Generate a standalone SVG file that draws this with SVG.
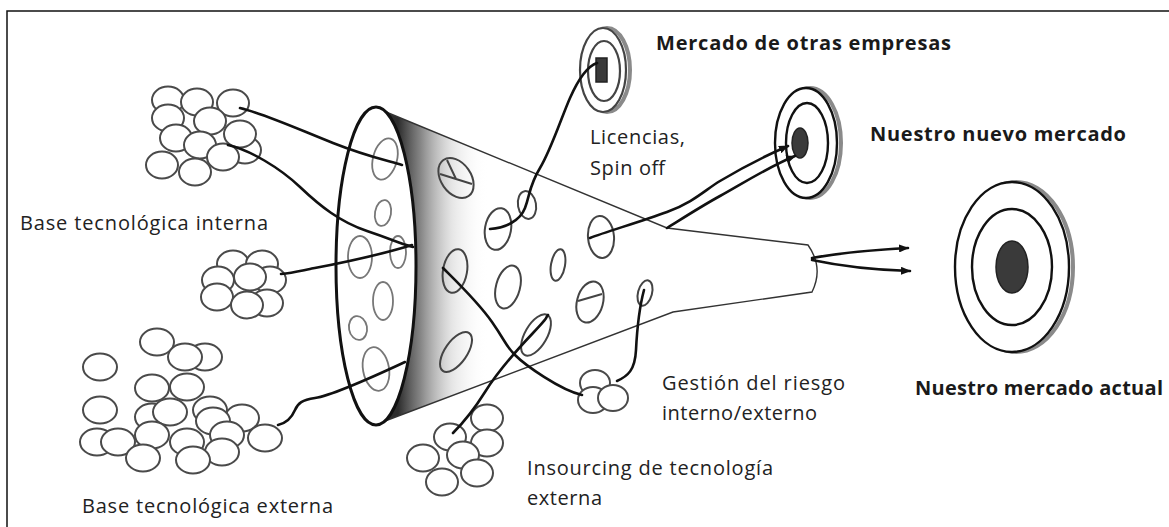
<svg xmlns="http://www.w3.org/2000/svg" width="1169" height="527" viewBox="0 0 1169 527">
  <defs>
    <linearGradient id="rimShade" gradientUnits="userSpaceOnUse" x1="398" y1="0" x2="488" y2="0">
      <stop offset="0" stop-color="#1a1a1a" stop-opacity="0.92"/>
      <stop offset="0.25" stop-color="#444" stop-opacity="0.65"/>
      <stop offset="0.6" stop-color="#999" stop-opacity="0.25"/>
      <stop offset="1" stop-color="#fff" stop-opacity="0"/>
    </linearGradient>
    <marker id="arrow" viewBox="0 0 10 8" refX="9" refY="4" markerWidth="10" markerHeight="8" markerUnits="userSpaceOnUse" orient="auto">
      <path d="M0,0 L10,4 L0,8 z" fill="#111"/>
    </marker>
    <style>
      .frame { fill: none; stroke: #111; stroke-width: 1.5; }
      .ball { fill: #fff; stroke: #4a4a4a; stroke-width: 2; }
      .hole { fill: none; stroke: #444; stroke-width: 2; }
      .hole-in { fill: none; stroke: #777; stroke-width: 1.8; }
      .rim { fill: none; stroke: #111; stroke-width: 3; }
      .edge { fill: none; stroke: #333; stroke-width: 1.4; }
      .string { fill: none; stroke: #111; stroke-width: 2.6; stroke-linecap: round; stroke-linejoin: round; }
      .ring { fill: #fff; stroke: #111; stroke-width: 2.4; }
      .ring-soft { fill: #fff; stroke: #444; stroke-width: 2.2; }
      .shadow { fill: #fff; stroke: #8a8a8a; stroke-width: 4; }
      .bull { fill: #3a3a3a; stroke: #222; stroke-width: 1.5; }
      .label { font-family: "Open Sans", "Liberation Sans", sans-serif; font-size: 20px; fill: #222; }
      .title { font-family: "Open Sans", "Liberation Sans", sans-serif; font-size: 20px; font-weight: bold; fill: #1a1a1a; }
    </style>
  </defs>

  <rect width="1169" height="527" fill="#fff"/>
  <path id="frame" class="frame" d="M7,527 V11 H1169"/>

  <!-- funnel: body, shading near the opening, holes, outline -->
  <g id="funnel">
    <path d="M386,112 L667,228 L808,245 Q824,268 812,292 L673,312 L385,421 A40 159 0 0 0 386,112 Z" fill="#fff"/>
    <path d="M386,112 L667,228 L808,245 Q824,268 812,292 L673,312 L385,421 A40 159 0 0 0 386,112 Z" fill="url(#rimShade)"/>
    <ellipse cx="376" cy="266" rx="40" ry="159" fill="#fff"/>

    <!-- holes seen through the opening -->
    <ellipse class="hole-in" cx="385" cy="159" rx="12" ry="21" transform="rotate(15 385 159)"/>
    <ellipse class="hole-in" cx="383" cy="213" rx="8" ry="13" transform="rotate(10 383 213)"/>
    <ellipse class="hole-in" cx="360" cy="257" rx="12" ry="21"/>
    <ellipse class="hole-in" cx="398" cy="252" rx="8" ry="16"/>
    <ellipse class="hole-in" cx="383" cy="301" rx="10" ry="19"/>
    <ellipse class="hole-in" cx="358" cy="328" rx="9" ry="12" transform="rotate(-10 358 328)"/>
    <ellipse class="hole-in" cx="376" cy="369" rx="13" ry="22" transform="rotate(-10 376 369)"/>

    <!-- holes on the outer surface -->
    <ellipse class="hole" cx="456" cy="178" rx="15" ry="22" transform="rotate(-35 456 178)"/>
    <path class="hole" d="M440,174 L472,184 M456,179 L447,160"/>
    <ellipse class="hole" cx="498" cy="229" rx="13" ry="21" transform="rotate(10 498 229)"/>
    <ellipse class="hole" cx="527" cy="205" rx="9" ry="14" transform="rotate(-10 527 205)"/>
    <ellipse class="hole" cx="601" cy="237" rx="13" ry="21" transform="rotate(-5 601 237)"/>
    <ellipse class="hole" cx="455" cy="271" rx="12" ry="22" transform="rotate(10 455 271)"/>
    <ellipse class="hole" cx="508" cy="287" rx="12" ry="22" transform="rotate(15 508 287)"/>
    <ellipse class="hole" cx="558" cy="265" rx="7" ry="16" transform="rotate(10 558 265)" stroke-width="2.6" stroke="#222"/>
    <ellipse class="hole" cx="590" cy="302" rx="13" ry="21" transform="rotate(15 590 302)"/>
    <path class="hole" d="M578,301 L602,294" stroke-width="2.4" stroke="#222"/>
    <ellipse class="hole" cx="645" cy="293" rx="7" ry="13" transform="rotate(15 645 293)"/>
    <ellipse class="hole" cx="456" cy="352" rx="11" ry="23" transform="rotate(35 456 352)" stroke-width="2.4" stroke="#222"/>
    <ellipse class="hole" cx="536" cy="335" rx="11" ry="23" transform="rotate(30 536 335)" stroke-width="2.4" stroke="#222"/>

    <path class="edge" d="M386,112 L667,228 L808,245 Q824,268 812,292 L673,312 L385,421"/>
    <ellipse class="rim" cx="376" cy="266" rx="40" ry="159"/>
  </g>

  <!-- technology clusters -->
  <g id="cluster-internal">
    <ellipse class="ball" cx="168" cy="100" rx="16" ry="13.5"/>
    <ellipse class="ball" cx="233" cy="103" rx="16" ry="13.5"/>
    <ellipse class="ball" cx="197" cy="102" rx="16" ry="13.5"/>
    <ellipse class="ball" cx="210" cy="121" rx="16" ry="13.5"/>
    <ellipse class="ball" cx="168" cy="118" rx="16" ry="13.5"/>
    <ellipse class="ball" cx="245" cy="150" rx="16" ry="13.5"/>
    <ellipse class="ball" cx="240" cy="134" rx="16" ry="13.5"/>
    <ellipse class="ball" cx="176" cy="138" rx="16" ry="13.5"/>
    <ellipse class="ball" cx="200" cy="145" rx="16" ry="13.5"/>
    <ellipse class="ball" cx="223" cy="157" rx="16" ry="13.5"/>
    <ellipse class="ball" cx="162" cy="165" rx="16" ry="13.5"/>
    <ellipse class="ball" cx="195" cy="172" rx="16" ry="13.5"/>
  </g>

  <g id="cluster-middle">
    <ellipse class="ball" cx="233" cy="264" rx="16" ry="13.5"/>
    <ellipse class="ball" cx="262" cy="264" rx="16" ry="13.5"/>
    <ellipse class="ball" cx="218" cy="280" rx="16" ry="13.5"/>
    <ellipse class="ball" cx="270" cy="280" rx="16" ry="13.5"/>
    <ellipse class="ball" cx="250" cy="277" rx="16" ry="13.5"/>
    <ellipse class="ball" cx="217" cy="297" rx="16" ry="13.5"/>
    <ellipse class="ball" cx="267" cy="303" rx="16" ry="13.5"/>
    <ellipse class="ball" cx="247" cy="305" rx="16" ry="13.5"/>
  </g>

  <g id="cluster-external">
    <ellipse class="ball" cx="157" cy="342" rx="17" ry="13.5"/>
    <ellipse class="ball" cx="205" cy="357" rx="17" ry="13.5"/>
    <ellipse class="ball" cx="185" cy="357" rx="17" ry="13.5"/>
    <ellipse class="ball" cx="100" cy="367" rx="17" ry="13.5"/>
    <ellipse class="ball" cx="152" cy="388" rx="17" ry="13.5"/>
    <ellipse class="ball" cx="187" cy="387" rx="17" ry="13.5"/>
    <ellipse class="ball" cx="100" cy="410" rx="17" ry="13.5"/>
    <ellipse class="ball" cx="152" cy="417" rx="17" ry="13.5"/>
    <ellipse class="ball" cx="242" cy="418" rx="17" ry="13.5"/>
    <ellipse class="ball" cx="210" cy="410" rx="17" ry="13.5"/>
    <ellipse class="ball" cx="170" cy="412" rx="17" ry="13.5"/>
    <ellipse class="ball" cx="213" cy="421" rx="17" ry="13.5"/>
    <ellipse class="ball" cx="152" cy="435" rx="17" ry="13.5"/>
    <ellipse class="ball" cx="227" cy="435" rx="17" ry="13.5"/>
    <ellipse class="ball" cx="97" cy="442" rx="17" ry="13.5"/>
    <ellipse class="ball" cx="118" cy="442" rx="17" ry="13.5"/>
    <ellipse class="ball" cx="187" cy="442" rx="17" ry="13.5"/>
    <ellipse class="ball" cx="265" cy="438" rx="17" ry="13.5"/>
    <ellipse class="ball" cx="222" cy="452" rx="17" ry="13.5"/>
    <ellipse class="ball" cx="143" cy="458" rx="17" ry="13.5"/>
    <ellipse class="ball" cx="193" cy="460" rx="17" ry="13.5"/>
  </g>

  <g id="cluster-insourcing">
    <ellipse class="ball" cx="487" cy="418" rx="16" ry="13.5"/>
    <ellipse class="ball" cx="450" cy="437" rx="16" ry="13.5"/>
    <ellipse class="ball" cx="487" cy="443" rx="16" ry="13.5"/>
    <ellipse class="ball" cx="463" cy="455" rx="16" ry="13.5"/>
    <ellipse class="ball" cx="423" cy="458" rx="16" ry="13.5"/>
    <ellipse class="ball" cx="477" cy="473" rx="16" ry="13.5"/>
    <ellipse class="ball" cx="442" cy="482" rx="16" ry="13.5"/>
  </g>

  <g id="cluster-risk">
    <ellipse class="ball" cx="595" cy="383" rx="15" ry="13"/>
    <ellipse class="ball" cx="593" cy="400" rx="15" ry="13"/>
    <ellipse class="ball" cx="613" cy="398" rx="15" ry="13"/>
  </g>

  <!-- market targets -->
  <g id="target-others">
    <ellipse class="shadow" cx="607" cy="70" rx="23" ry="42"/>
    <ellipse class="ring-soft" cx="603" cy="70" rx="23" ry="42"/>
    <ellipse class="ring-soft" cx="604" cy="71" rx="16" ry="30"/>
    <rect class="bull" x="596" y="58" width="11" height="24"/>
  </g>

  <g id="target-new">
    <ellipse class="shadow" cx="810" cy="143" rx="31" ry="55"/>
    <ellipse class="ring" cx="806" cy="143" rx="31" ry="55"/>
    <ellipse class="ring" cx="807" cy="143" rx="21" ry="40"/>
    <ellipse class="bull" cx="800" cy="143" rx="8" ry="15"/>
  </g>

  <g id="target-current">
    <ellipse class="shadow" cx="1016" cy="267" rx="57" ry="85"/>
    <ellipse class="ring" cx="1012" cy="267" rx="57" ry="85"/>
    <ellipse class="ring" cx="1012" cy="267" rx="40" ry="58"/>
    <ellipse class="bull" cx="1012" cy="267" rx="16" ry="26"/>
  </g>

  <!-- flows of technology -->
  <g id="connectors">
    <path class="string" d="M240,108 C265,114 300,130 333,143 S385,160 402,165"/>
    <path class="string" d="M228,145 C250,150 280,168 300,187 S340,222 367,231 S400,244 413,247"/>
    <path class="string" d="M281,274 C292,273 300,271 310,269 S370,258 412,245"/>
    <path class="string" d="M278,425 C287,423 292,417 295,410 S302,400 315,398 S360,383 405,362"/>
    <path class="string" d="M597,63 C588,66 578,80 570,98 S551,150 540,168 S530,195 525,208 S505,228 490,229"/>
    <path class="string" d="M590,238 C605,232 640,222 667,212 S705,190 720,181 S765,156 788,146" marker-end="url(#arrow)"/>
    <path class="string" d="M667,228 C680,220 700,207 720,196 S770,166 795,156" marker-end="url(#arrow)"/>
    <path class="string" d="M443,268 C458,283 478,302 492,322 S505,345 515,355 S560,390 582,395"/>
    <path class="string" d="M453,433 C462,424 475,408 485,392 S515,352 533,333 S544,320 548,315"/>
    <path class="string" d="M644,290 C640,305 637,330 636,350 S628,376 617,381"/>
    <path class="string" d="M812,258 C840,253 870,250 908,248" marker-end="url(#arrow)"/>
    <path class="string" d="M812,260 C840,266 875,270 910,271" marker-end="url(#arrow)"/>
  </g>

  <g id="labels">
    <text class="label" x="20" y="230" textLength="248" lengthAdjust="spacing">Base tecnológica  interna</text>
    <text class="label" x="82" y="513" textLength="251" lengthAdjust="spacing">Base tecnológica  externa</text>
    <text class="label" x="590" y="144" textLength="95" lengthAdjust="spacing">Licencias,</text>
    <text class="label" x="590" y="175" textLength="75" lengthAdjust="spacing">Spin  off</text>
    <text class="label" x="662" y="390" textLength="183" lengthAdjust="spacing">Gestión del  riesgo</text>
    <text class="label" x="662" y="420" textLength="155" lengthAdjust="spacing">interno/externo</text>
    <text class="label" x="527" y="475" textLength="246" lengthAdjust="spacing">Insourcing de tecnología</text>
    <text class="label" x="527" y="505" textLength="75" lengthAdjust="spacing">externa</text>
    <text class="title" x="656" y="50" textLength="295" lengthAdjust="spacing">Mercado de otras empresas</text>
    <text class="title" x="870" y="141" textLength="256" lengthAdjust="spacing">Nuestro nuevo mercado</text>
    <text class="title" x="915" y="395" textLength="248" lengthAdjust="spacing">Nuestro mercado actual</text>
  </g>
</svg>
